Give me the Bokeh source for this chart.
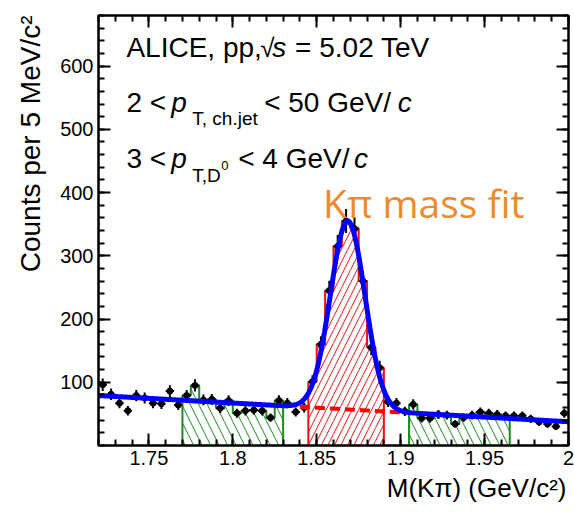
import numpy as np
from bokeh.plotting import figure
from bokeh.models import Label, LinearAxis, FixedTicker, Range1d, Title
from bokeh.embed import file_html
from bokeh.resources import INLINE

# ---------------- data ----------------
bin_lo = 1.72
bin_width = 0.005
counts = [96, 81, 67, 55, 79, 75, 67, 66, 86, 64,
          79, 95, 72, 73, 59, 71, 51, 55, 56, 55,
          44, 71, 67, 53, 60, 101, 160, 245, 315, 355,
          343, 260, 155, 123, 69, 67, 54, 65, 43, 43,
          49, 48, 34, 44, 48, 53, 51, 49, 47, 47,
          47, 42, 37, 34, 30, 51]
sideband_left = (1.77, 1.83)
sideband_right = (1.905, 1.965)
signal_region = (1.845, 1.89)
bg_dash_range = (1.84, 1.90)

fit_mean = 1.8685
fit_sigma = 0.0103
fit_amp = 298.0
bg_at_lo = 79.0
bg_slope = -148.0

x_ticks = [1.75, 1.8, 1.85, 1.9, 1.95, 2.0]
x_tick_labels = ["1.75", "1.8", "1.85", "1.9", "1.95", "2"]
y_ticks = [100, 200, 300, 400, 500, 600]
y_tick_labels = ["100", "200", "300", "400", "500", "600"]
x_title = "M(K\u03c0) (GeV/c\u00b2)"
y_title = "Counts per 5 MeV/c\u00b2"

X0, X1 = 1.72, 2.0
Y0, Y1 = 0, 680

# ---------------- derived ----------------
cnt = np.array(counts, dtype=float)
left = bin_lo + bin_width * np.arange(len(cnt))
right = left + bin_width
centers = left + bin_width / 2
err = np.sqrt(cnt)

def region_mask(lo, hi):
    return (left >= lo - 1e-9) & (right <= hi + 1e-9)

def outline(mask):
    l, r, v = left[mask], right[mask], cnt[mask]
    xs, ys = [l[0]], [0.0]
    for a, b, c in zip(l, r, v):
        xs += [a, b]
        ys += [c, c]
    xs.append(r[-1]); ys.append(0.0)
    return xs, ys

def bg_fn(x):
    return bg_at_lo + bg_slope * (x - X0)

def fit_fn(x):
    return bg_fn(x) + fit_amp * np.exp(-0.5 * ((x - fit_mean) / fit_sigma) ** 2)

# ---------------- figure ----------------
W, H = 574, 512
FL, FR, FT, FB = 97, 568, 15, 445
p = figure(width=W, height=H, x_range=Range1d(X0, X1), y_range=Range1d(Y0, Y1),
           output_backend="svg", toolbar_location=None,
           min_border_left=FL, min_border_right=W - FR,
           min_border_top=FT, min_border_bottom=H - FB)
p.grid.visible = False
p.outline_line_color = "black"
p.outline_line_width = 2
p.background_fill_color = "white"
p.border_fill_color = "white"

x_minor = [round(v, 3) for v in np.arange(1.72, 2.0001, 0.01)]
y_minor = list(range(0, 681, 20))

def style_axis(ax, ticks, minor, labels=None):
    ax.ticker = FixedTicker(ticks=ticks, minor_ticks=minor)
    ax.major_tick_in = 12
    ax.major_tick_out = 0
    ax.minor_tick_in = 6
    ax.minor_tick_out = 0
    ax.major_tick_line_width = 2
    ax.minor_tick_line_width = 2
    ax.axis_line_width = 2
    ax.axis_line_color = "black"
    ax.major_tick_line_color = "black"
    ax.minor_tick_line_color = "black"
    if labels is None:
        ax.major_label_text_font_size = "0px"
        ax.major_label_text_color = None
        ax.major_label_standoff = 0
    else:
        ax.major_label_overrides = dict(zip(ticks, labels))
        ax.major_label_text_font = "Liberation Sans"
        ax.major_label_text_font_size = "20px"
        ax.major_label_text_color = "black"
        ax.major_label_standoff = 5

style_axis(p.xaxis[0], x_ticks, x_minor, x_tick_labels)
style_axis(p.yaxis[0], y_ticks, y_minor, y_tick_labels)
top_ax = LinearAxis()
right_ax = LinearAxis()
style_axis(top_ax, x_ticks, x_minor)
style_axis(right_ax, y_ticks, y_minor)
p.add_layout(top_ax, "above")
p.add_layout(right_ax, "right")

# axis titles, right-aligned at the axis ends (as ROOT does)
p.add_layout(Title(text=x_title, align="right", text_font="Liberation Sans",
                   text_font_size="26px", text_font_style="normal",
                   text_color="black", standoff=7, offset=2), "below")
p.add_layout(Title(text=y_title, align="right", text_font="Liberation Sans",
                   text_font_size="28px", text_font_style="normal",
                   text_color="black", standoff=24), "left")

green = "#1a8c1a"
red = "#ee1111"

# sideband histograms (hatched)
for lo, hi in (sideband_left, sideband_right):
    m = region_mask(lo, hi)
    p.quad(left=left[m], right=right[m], bottom=0, top=cnt[m],
           fill_color=None, line_color=None,
           hatch_pattern="left_diagonal_line", hatch_color=green,
           hatch_scale=17, hatch_weight=1)
    xs, ys = outline(m)
    p.line(xs, ys, line_color=green, line_width=2)

# signal histogram (hatched)
m = region_mask(*signal_region)
p.quad(left=left[m], right=right[m], bottom=0, top=cnt[m],
       fill_color=None, line_color=None,
       hatch_pattern="right_diagonal_line", hatch_color=red,
       hatch_scale=13, hatch_weight=1)
xs, ys = outline(m)
p.line(xs, ys, line_color=red, line_width=2)

# data points with error bars
p.segment(x0=centers, y0=cnt - err, x1=centers, y1=cnt + err, line_color="black", line_width=2)
p.segment(x0=left, y0=cnt, x1=right, y1=cnt, line_color="black", line_width=2)
p.scatter(centers, cnt, size=6, color="black", marker="circle")

# background under the peak (dashed)
xb = np.linspace(bg_dash_range[0], bg_dash_range[1], 50)
p.line(xb, bg_fn(xb), line_color="red", line_width=4, line_dash="10 5")

# total fit
xf = np.linspace(X0, X1, 600)
p.line(xf, fit_fn(xf), line_color="#0000ff", line_width=5)

# ---------------- text inside the frame ----------------
def dx(px):
    return X0 + (px - FL) * (X1 - X0) / (FR - FL)

def dy(py):
    return Y0 + (FB - py) * (Y1 - Y0) / (FB - FT)

def add_text(px, py, text, size, style="normal", font="Liberation Sans",
             color="black", angle=0, align="left"):
    p.add_layout(Label(x=dx(px), y=dy(py), x_units="data", y_units="data", text=text,
                       text_font=font, text_font_size=f"{size}px", text_font_style=style,
                       text_color=color, text_align=align, text_baseline="alphabetic",
                       angle=angle, angle_units="deg"))

# line 1
add_text(125, 47, "ALICE, pp,", 28)
add_text(259, 47, "\u221a", 26)
add_text(271, 47, "s", 28, "italic")
add_text(294, 47, "= 5.02 TeV", 28)
# line 2
add_text(125, 102, "2 < ", 28)
add_text(170, 102, "p", 28, "italic")
add_text(191, 118, "T, ch.jet", 19)
add_text(263, 102, "< 50 GeV/", 28)
add_text(397, 102, "c", 28, "italic")
# line 3
add_text(125, 158, "3 < ", 28)
add_text(170, 158, "p", 28, "italic")
add_text(191, 175, "T,D", 19)
add_text(220, 165, "0", 13)
add_text(237, 158, "< 4 GeV/", 28)
add_text(353, 158, "c", 28, "italic")

# orange annotation
add_text(322, 202, "K\u03c0 mass fit", 39, font="Open Sans", color="#ef8a2c")

open("out.html", "w").write(file_html(p, INLINE))
